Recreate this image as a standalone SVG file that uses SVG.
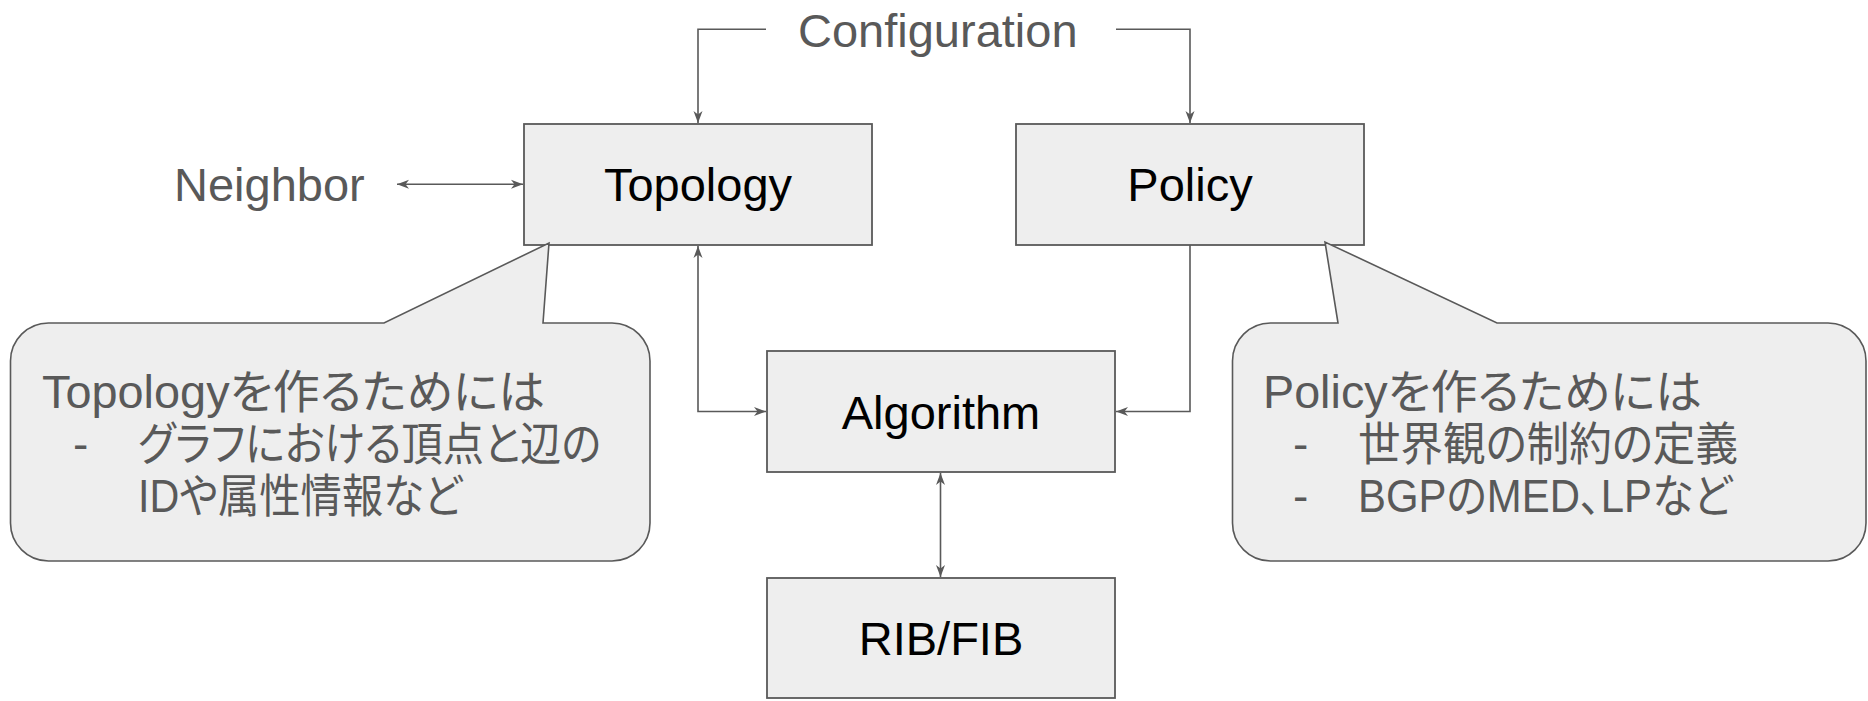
<svg xmlns="http://www.w3.org/2000/svg" width="1868" height="701" viewBox="0 0 1868 701">
<style>
.box{fill:#eeeeee;stroke:#595959;stroke-width:1.8}
.call{fill:#eeeeee;stroke:#595959;stroke-width:1.6}
.lbl{font-family:"Liberation Sans",Arial,sans-serif;font-size:47px;fill:#000000;text-anchor:middle}
.glbl{font-family:"Liberation Sans",Arial,sans-serif;font-size:47px;fill:#595959}
.ct{font-family:"Liberation Sans","Noto Sans CJK JP",sans-serif;font-size:46px;fill:#595959;font-feature-settings:"palt"}
.conn{fill:none;stroke:#595959;stroke-width:1.6}
</style>
<defs>
<marker id="ah" viewBox="0 0 12 10" refX="12" refY="5" markerWidth="12" markerHeight="10" markerUnits="userSpaceOnUse" orient="auto-start-reverse">
<path d="M0,0.5 L12,5 L0,9.5 L3.5,5 Z" fill="#595959"/>
</marker>
</defs>
<rect width="1868" height="701" fill="#ffffff"/>
<g id="connectors">
<path class="conn" d="M766,29.3 H698 V123" marker-end="url(#ah)"/>
<path class="conn" d="M1116,29.3 H1190 V123" marker-end="url(#ah)"/>
<path class="conn" d="M397,184.3 H523" marker-start="url(#ah)" marker-end="url(#ah)"/>
<path class="conn" d="M698,246 V411.5 H766" marker-start="url(#ah)" marker-end="url(#ah)"/>
<path class="conn" d="M1190,245 V411.5 H1116" marker-end="url(#ah)"/>
<path class="conn" d="M940.5,473 V577" marker-start="url(#ah)" marker-end="url(#ah)"/>
</g>
<g id="configuration">
<text class="glbl" x="798" y="47">Configuration</text>
</g>
<g id="neighbor">
<text class="glbl" x="174" y="201">Neighbor</text>
</g>
<g id="topology">
<rect class="box" x="524" y="124" width="348" height="121"/>
<text class="lbl" x="698" y="201">Topology</text>
</g>
<g id="policy">
<rect class="box" x="1016" y="124" width="348" height="121"/>
<text class="lbl" x="1190" y="201">Policy</text>
</g>
<g id="algorithm">
<rect class="box" x="767" y="351" width="348" height="121"/>
<text class="lbl" x="941" y="429">Algorithm</text>
</g>
<g id="ribfib">
<rect class="box" x="767" y="578" width="348" height="120"/>
<text class="lbl" x="941" y="655">RIB/FIB</text>
</g>
<g id="topology-note">
<path class="call" d="M48.5,323 H384 L549,243 L543,323 H612 A38,38 0 0 1 650,361 V523 A38,38 0 0 1 612,561 H48.5 A38,38 0 0 1 10.5,523 V361 A38,38 0 0 1 48.5,323 Z"/>
<text class="ct" x="42" y="408" textLength="503" lengthAdjust="spacingAndGlyphs">Topologyを作るためには</text>
<text class="ct" x="73" y="460">-</text>
<text class="ct" x="138" y="460" textLength="463" lengthAdjust="spacingAndGlyphs">グラフにおける頂点と辺の</text>
<text class="ct" x="138" y="512" textLength="324" lengthAdjust="spacingAndGlyphs">IDや属性情報など</text>
</g>
<g id="policy-note">
<path class="call" d="M1270.5,323 H1338 L1325,242 L1497,323 H1828 A38,38 0 0 1 1866,361 V523 A38,38 0 0 1 1828,561 H1270.5 A38,38 0 0 1 1232.5,523 V361 A38,38 0 0 1 1270.5,323 Z"/>
<text class="ct" x="1263" y="408" textLength="439" lengthAdjust="spacingAndGlyphs">Policyを作るためには</text>
<text class="ct" x="1293" y="460">-</text>
<text class="ct" x="1358" y="460" textLength="380" lengthAdjust="spacingAndGlyphs">世界観の制約の定義</text>
<text class="ct" x="1293" y="512">-</text>
<text class="ct" x="1358" y="512" textLength="374" lengthAdjust="spacingAndGlyphs">BGPのMED、LPなど</text>
</g>
</svg>
